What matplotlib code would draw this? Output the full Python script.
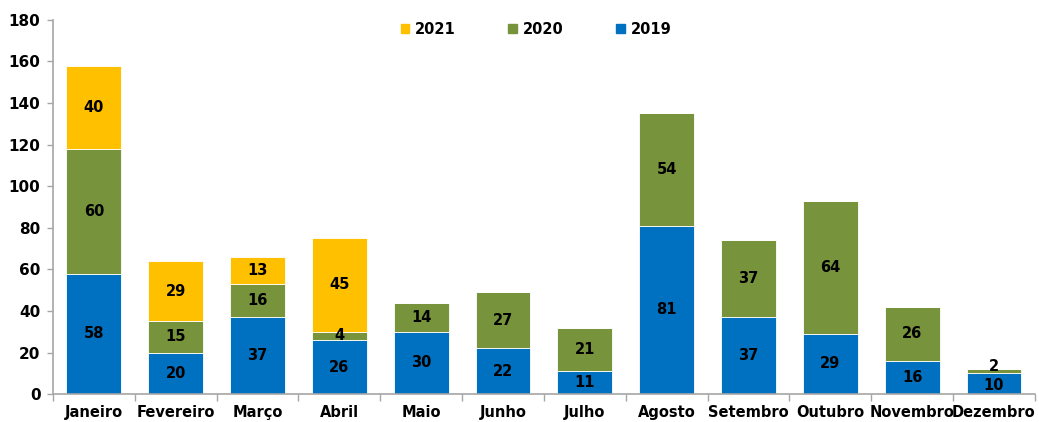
import numpy as np
import matplotlib.pyplot as plt
from matplotlib.patches import Patch

months = ['Janeiro', 'Fevereiro', 'Março', 'Abril', 'Maio', 'Junho', 'Julho',
          'Agosto', 'Setembro', 'Outubro', 'Novembro', 'Dezembro']
v2019 = [58, 20, 37, 26, 30, 22, 11, 81, 37, 29, 16, 10]
v2020 = [60, 15, 16, 4, 14, 27, 21, 54, 37, 64, 26, 2]
v2021 = [40, 29, 13, 45, 0, 0, 0, 0, 0, 0, 0, 0]

c2019 = '#0070C0'
c2020 = '#77933C'
c2021 = '#FFC000'

plt.rcParams['font.family'] = ['DejaVu Sans']
plt.rcParams['font.weight'] = 'bold'

fig = plt.figure(figsize=(10.39, 4.22), dpi=100)
ax = fig.add_axes([0.051, 0.066, 0.945, 0.887])

x = np.arange(len(months))
w = 0.67
b1 = ax.bar(x, v2019, w, color=c2019, edgecolor='white', linewidth=0.6)
b2 = ax.bar(x, v2020, w, bottom=v2019, color=c2020, edgecolor='white', linewidth=0.6)
bot3 = np.array(v2019) + np.array(v2020)
b3 = ax.bar(x, v2021, w, bottom=bot3, color=c2021, edgecolor='white', linewidth=0.6)

texts = {}
for name, bars, vals in (('2019', b1, v2019), ('2020', b2, v2020), ('2021', b3, v2021)):
    labels = [str(v) if v else '' for v in vals]
    texts[name] = ax.bar_label(bars, labels=labels, label_type='center', fontsize=10.5,
                               fontweight='bold', color='black')

# tiny segment in Dezembro: push its label up a bit so it does not sit on "10"
small = texts['2020'][-1]
small.set_va('bottom')
small.xyann = (0, -2)
texts['2019'][-1].xyann = (0, -1.5)

ax.set_xlim(-0.5, len(months) - 0.5)
ax.set_ylim(0, 180)
ax.set_yticks(range(0, 181, 20))
ax.set_xticks(x)
ax.set_xticklabels(months)
ax.set_xticks(np.arange(-0.5, len(months), 1), minor=True)
ax.tick_params(axis='x', which='major', length=0, pad=8, labelsize=10.5)
ax.tick_params(axis='x', which='minor', length=5, color='#A6A6A6', width=1)
ax.tick_params(axis='y', length=4, color='#A6A6A6', width=1, labelsize=11, pad=5)
for lab in ax.get_xticklabels() + ax.get_yticklabels():
    lab.set_fontweight('bold')

for s in ['top', 'right']:
    ax.spines[s].set_visible(False)
for s in ['left', 'bottom']:
    ax.spines[s].set_color('#A6A6A6')
    ax.spines[s].set_linewidth(1.2)

handles = [Patch(color=c2021, label='2021'), Patch(color=c2020, label='2020'),
           Patch(color=c2019, label='2019')]
ax.legend(handles=handles, loc='upper center', bbox_to_anchor=(0.492, 1.03), ncol=3,
          frameon=False, handlelength=0.6, handleheight=0.6, handletextpad=0.4,
          columnspacing=3.6, prop={'weight': 'bold', 'size': 10.5})

fig.savefig('out.png', dpi=100)
